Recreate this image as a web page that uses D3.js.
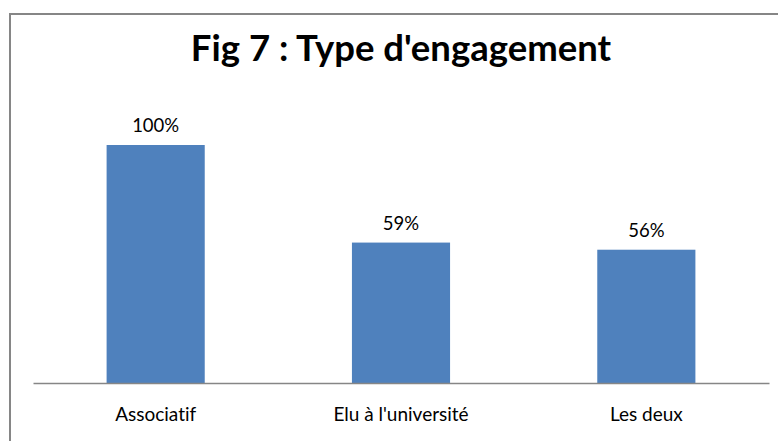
<!DOCTYPE html>
<html><head><meta charset="utf-8">
<script src="https://cdn.jsdelivr.net/npm/d3@7"></script>
<style>body{margin:0;background:#fff}svg{display:block}text{font-variant-ligatures:none;font-feature-settings:"liga" 0}</style>
</head><body>
<script>
const categories = ["Associatif", "Elu à l'université", "Les deux"];
const values = [100, 59, 56];
const valueLabels = ["100%", "59%", "56%"];
const title = "Fig 7 : Type d'engagement";

const W = 778, H = 441;
const font = "Lato, 'Open Sans', sans-serif";
const svg = d3.select("body").append("svg").attr("width", W).attr("height", H);
svg.append("rect").attr("x", 10).attr("y", 14).attr("width", 800).attr("height", 500)
  .attr("fill", "none").attr("stroke", "#868686").attr("stroke-width", 2);

svg.append("text").attr("x", 401).attr("y", 61).attr("text-anchor", "middle")
  .attr("font-family", font).attr("font-weight", "bold")
  .attr("font-size", 36.5).attr("fill", "#000").text(title);

const x = d3.scaleBand().domain(categories).range([33, 769]).paddingInner(0.6).paddingOuter(0.3);
const y = d3.scaleLinear().domain([0, 100]).range([383, 145]);

svg.selectAll("rect.bar").data(values).join("rect").attr("class", "bar")
  .attr("x", (d, i) => x(categories[i])).attr("width", x.bandwidth())
  .attr("y", d => y(d)).attr("height", d => y(0) - y(d)).attr("fill", "#4F81BD");

const axis = svg.append("g").attr("transform", `translate(0,${y(0)})`)
  .call(d3.axisBottom(x).tickSize(0).tickPadding(25));
axis.select(".domain").attr("stroke", "#868686").attr("stroke-width", 1.5);
axis.selectAll("text").attr("font-family", font).attr("font-size", 19).attr("fill", "#000");

svg.selectAll("text.val").data(values).join("text").attr("class", "val")
  .attr("x", (d, i) => x(categories[i]) + x.bandwidth() / 2).attr("y", d => y(d) - 13)
  .attr("text-anchor", "middle").attr("font-family", font)
  .attr("font-size", 18.5).attr("fill", "#000").text((d, i) => valueLabels[i]);
</script>
</body></html>
